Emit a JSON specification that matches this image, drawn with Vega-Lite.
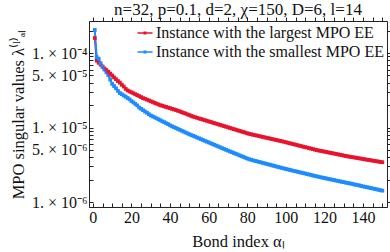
{
  "$schema": "https://vega.github.io/schema/vega-lite/v6.json",
  "autosize": {"type": "none"},
  "padding": {"left": 89, "top": 21, "right": 3, "bottom": 45},
  "width": 298,
  "height": 186,
  "background": "white",
  "config": {
    "font": "Liberation Serif",
    "view": {"stroke": "#222", "strokeWidth": 1},
    "axis": {"labelFont": "Liberation Serif", "titleFont": "Liberation Serif", "labelColor": "#111", "titleColor": "#111", "domainColor": "#222", "tickColor": "#222", "grid": false, "labelFontWeight": "normal", "titleFontWeight": "normal"}
  },
  "title": {"text": "n=32, p=0.1, d=2, χ=150, D=6, l=14", "font": "Liberation Serif", "fontSize": 17, "fontWeight": "normal", "color": "#111", "offset": -2},
  "data": {"values": [
    {"i":1,"L":1.59e-4,"S":2.04e-4},{"i":2,"L":7.9e-5,"S":8.8e-5},{"i":3,"L":7.4e-5,"S":8.4e-5},{"i":4,"L":7.0e-5,"S":7.3e-5},{"i":5,"L":6.6e-5,"S":6.5e-5},
    {"i":6,"L":6.2e-5,"S":6.0e-5},{"i":7,"L":5.9e-5,"S":5.5e-5},{"i":8,"L":5.6e-5,"S":5.05e-5},{"i":9,"L":5.3e-5,"S":4.4e-5},{"i":10,"L":5.0e-5,"S":3.85e-5},
    {"i":11,"L":4.7e-5,"S":3.6e-5},{"i":12,"L":4.45e-5,"S":3.35e-5},{"i":13,"L":4.2e-5,"S":3.1e-5},{"i":14,"L":4.0e-5,"S":2.9e-5},{"i":15,"L":3.75e-5,"S":2.8e-5},
    {"i":16,"L":3.55e-5,"S":2.69e-5},{"i":17,"L":3.3e-5,"S":2.59e-5},{"i":18,"L":3.15e-5,"S":2.49e-5},{"i":19,"L":3.05e-5,"S":2.39e-5},{"i":20,"L":2.97e-5,"S":2.26e-5},
    {"i":21,"L":2.88e-5,"S":2.17e-5},{"i":22,"L":2.8e-5,"S":2.07e-5},{"i":23,"L":2.72e-5,"S":1.98e-5},{"i":24,"L":2.64e-5,"S":1.85e-5},{"i":25,"L":2.56e-5,"S":1.78e-5},
    {"i":26,"L":2.48e-5,"S":1.71e-5},{"i":27,"L":2.43e-5,"S":1.64e-5},{"i":28,"L":2.37e-5,"S":1.58e-5},{"i":29,"L":2.31e-5,"S":1.51e-5},{"i":30,"L":2.25e-5,"S":1.45e-5},
    {"i":31,"L":2.2e-5,"S":1.41e-5},{"i":32,"L":2.14e-5,"S":1.37e-5},{"i":33,"L":2.09e-5,"S":1.33e-5},{"i":34,"L":2.04e-5,"S":1.29e-5},{"i":35,"L":1.99e-5,"S":1.25e-5},
    {"i":36,"L":1.96e-5,"S":1.21e-5},{"i":37,"L":1.92e-5,"S":1.18e-5},{"i":38,"L":1.89e-5,"S":1.14e-5},{"i":39,"L":1.85e-5,"S":1.11e-5},{"i":40,"L":1.82e-5,"S":1.07e-5},
    {"i":41,"L":1.78e-5,"S":1.04e-5},{"i":42,"L":1.75e-5,"S":1.01e-5},{"i":43,"L":1.72e-5,"S":9.85e-6},{"i":44,"L":1.68e-5,"S":9.58e-6},{"i":45,"L":1.65e-5,"S":9.32e-6},
    {"i":46,"L":1.61e-5,"S":9.07e-6},{"i":47,"L":1.57e-5,"S":8.82e-6},{"i":48,"L":1.54e-5,"S":8.58e-6},{"i":49,"L":1.5e-5,"S":8.35e-6},{"i":50,"L":1.47e-5,"S":8.12e-6},
    {"i":51,"L":1.43e-5,"S":7.92e-6},{"i":52,"L":1.4e-5,"S":7.72e-6},{"i":53,"L":1.375e-5,"S":7.53e-6},{"i":54,"L":1.35e-5,"S":7.34e-6},{"i":55,"L":1.325e-5,"S":7.16e-6},
    {"i":56,"L":1.3e-5,"S":6.98e-6},{"i":57,"L":1.277e-5,"S":6.8e-6},{"i":58,"L":1.254e-5,"S":6.63e-6},{"i":59,"L":1.231e-5,"S":6.47e-6},{"i":60,"L":1.209e-5,"S":6.31e-6},
    {"i":61,"L":1.187e-5,"S":6.15e-6},{"i":62,"L":1.165e-5,"S":6.0e-6},{"i":63,"L":1.144e-5,"S":5.85e-6},{"i":64,"L":1.123e-5,"S":5.7e-6},{"i":65,"L":1.103e-5,"S":5.56e-6},
    {"i":66,"L":1.083e-5,"S":5.42e-6},{"i":67,"L":1.063e-5,"S":5.28e-6},{"i":68,"L":1.044e-5,"S":5.15e-6},{"i":69,"L":1.025e-5,"S":5.02e-6},{"i":70,"L":1.006e-5,"S":4.9e-6},
    {"i":71,"L":9.88e-6,"S":4.78e-6},{"i":72,"L":9.7e-6,"S":4.67e-6},{"i":73,"L":9.52e-6,"S":4.55e-6},{"i":74,"L":9.35e-6,"S":4.44e-6},{"i":75,"L":9.18e-6,"S":4.34e-6},
    {"i":76,"L":9.01e-6,"S":4.23e-6},{"i":77,"L":8.85e-6,"S":4.13e-6},{"i":78,"L":8.69e-6,"S":4.03e-6},{"i":79,"L":8.53e-6,"S":3.93e-6},{"i":80,"L":8.37e-6,"S":3.84e-6},
    {"i":81,"L":8.22e-6,"S":3.75e-6},{"i":82,"L":8.11e-6,"S":3.69e-6},{"i":83,"L":8.0e-6,"S":3.63e-6},{"i":84,"L":7.89e-6,"S":3.57e-6},{"i":85,"L":7.79e-6,"S":3.52e-6},
    {"i":86,"L":7.68e-6,"S":3.46e-6},{"i":87,"L":7.58e-6,"S":3.41e-6},{"i":88,"L":7.48e-6,"S":3.35e-6},{"i":89,"L":7.38e-6,"S":3.3e-6},{"i":90,"L":7.28e-6,"S":3.25e-6},
    {"i":91,"L":7.18e-6,"S":3.2e-6},{"i":92,"L":7.08e-6,"S":3.15e-6},{"i":93,"L":6.99e-6,"S":3.1e-6},{"i":94,"L":6.89e-6,"S":3.05e-6},{"i":95,"L":6.8e-6,"S":3.0e-6},
    {"i":96,"L":6.71e-6,"S":2.95e-6},{"i":97,"L":6.62e-6,"S":2.91e-6},{"i":98,"L":6.53e-6,"S":2.86e-6},{"i":99,"L":6.44e-6,"S":2.82e-6},{"i":100,"L":6.34e-6,"S":2.78e-6},
    {"i":101,"L":6.25e-6,"S":2.74e-6},{"i":102,"L":6.15e-6,"S":2.7e-6},{"i":103,"L":6.06e-6,"S":2.66e-6},{"i":104,"L":5.97e-6,"S":2.62e-6},{"i":105,"L":5.88e-6,"S":2.59e-6},
    {"i":106,"L":5.79e-6,"S":2.55e-6},{"i":107,"L":5.7e-6,"S":2.51e-6},{"i":108,"L":5.62e-6,"S":2.48e-6},{"i":109,"L":5.53e-6,"S":2.44e-6},{"i":110,"L":5.45e-6,"S":2.41e-6},
    {"i":111,"L":5.37e-6,"S":2.37e-6},{"i":112,"L":5.29e-6,"S":2.34e-6},{"i":113,"L":5.21e-6,"S":2.31e-6},{"i":114,"L":5.13e-6,"S":2.27e-6},{"i":115,"L":5.05e-6,"S":2.24e-6},
    {"i":116,"L":4.98e-6,"S":2.21e-6},{"i":117,"L":4.92e-6,"S":2.18e-6},{"i":118,"L":4.86e-6,"S":2.15e-6},{"i":119,"L":4.8e-6,"S":2.12e-6},{"i":120,"L":4.75e-6,"S":2.1e-6},
    {"i":121,"L":4.69e-6,"S":2.07e-6},{"i":122,"L":4.63e-6,"S":2.04e-6},{"i":123,"L":4.58e-6,"S":2.02e-6},{"i":124,"L":4.52e-6,"S":1.99e-6},{"i":125,"L":4.47e-6,"S":1.97e-6},
    {"i":126,"L":4.41e-6,"S":1.94e-6},{"i":127,"L":4.36e-6,"S":1.92e-6},{"i":128,"L":4.31e-6,"S":1.89e-6},{"i":129,"L":4.26e-6,"S":1.87e-6},{"i":130,"L":4.2e-6,"S":1.85e-6},
    {"i":131,"L":4.15e-6,"S":1.82e-6},{"i":132,"L":4.1e-6,"S":1.8e-6},{"i":133,"L":4.06e-6,"S":1.78e-6},{"i":134,"L":4.02e-6,"S":1.76e-6},{"i":135,"L":3.98e-6,"S":1.73e-6},
    {"i":136,"L":3.94e-6,"S":1.71e-6},{"i":137,"L":3.9e-6,"S":1.69e-6},{"i":138,"L":3.86e-6,"S":1.67e-6},{"i":139,"L":3.82e-6,"S":1.64e-6},{"i":140,"L":3.78e-6,"S":1.62e-6},
    {"i":141,"L":3.74e-6,"S":1.6e-6},{"i":142,"L":3.7e-6,"S":1.58e-6},{"i":143,"L":3.67e-6,"S":1.56e-6},{"i":144,"L":3.63e-6,"S":1.54e-6},{"i":145,"L":3.59e-6,"S":1.52e-6},
    {"i":146,"L":3.56e-6,"S":1.5e-6},{"i":147,"L":3.52e-6,"S":1.48e-6},{"i":148,"L":3.49e-6,"S":1.46e-6},{"i":149,"L":3.45e-6,"S":1.44e-6},{"i":150,"L":3.42e-6,"S":1.42e-6}
  ]},
  "transform": [{"fold": ["L", "S"], "as": ["s", "v"]}],
  "encoding": {
    "x": {"field": "i", "type": "quantitative", "scale": {"domain": [-2, 152.4], "nice": false, "zero": false}},
    "y": {"field": "v", "type": "quantitative", "scale": {"type": "log", "domain": [8.57e-7, 2.69e-4], "nice": false}},
    "color": {"field": "s", "type": "nominal", "scale": {"domain": ["L", "S"], "range": ["#E8132D", "#1E8CFF"]}}
  },
  "layer": [
    {
      "mark": {"type": "line", "strokeWidth": 2},
      "encoding": {
        "x": {"field": "i", "type": "quantitative", "axis": {
          "title": "Bond index αₗ", "titleFontSize": 16.5, "titlePadding": 8, "labelFontSize": 16,
          "values": [0,5,10,15,20,25,30,35,40,45,50,55,60,65,70,75,80,85,90,95,100,105,110,115,120,125,130,135,140,145,150],
          "labelExpr": "datum.value % 20 === 0 ? datum.label : ''",
          "labelFlush": false, "labelOverlap": false, "tickSize": -4, "labelPadding": 6,
          "encode": {"ticks": {"update": {"y2": {"signal": "datum.value % 10 === 0 ? -4.5 : -2.5"}}}}
        }},
        "y": {"field": "v", "type": "quantitative", "axis": {
          "title": "MPO singular values λ⁽ˡ⁾ₐₗ", "titleFontSize": 16.5, "titlePadding": 5, "labelFontSize": 16,
          "values": [1e-6,2e-6,3e-6,4e-6,5e-6,6e-6,7e-6,8e-6,9e-6,1e-5,2e-5,3e-5,4e-5,5e-5,6e-5,7e-5,8e-5,9e-5,1e-4,2e-4],
          "labelExpr": "(round(datum.value/pow(10,floor(log(datum.value)/LN10+1e-9)))==1 || round(datum.value/pow(10,floor(log(datum.value)/LN10+1e-9)))==5) && datum.value < 1.5e-4 ? round(datum.value/pow(10,floor(log(datum.value)/LN10+1e-9))) + '. × 10' + (floor(log(datum.value)/LN10+1e-9)==-4 ? '⁻⁴' : floor(log(datum.value)/LN10+1e-9)==-5 ? '⁻⁵' : '⁻⁶') : ''",
          "labelOverlap": false, "labelFlush": false, "tickSize": -4, "labelPadding": 6,
          "encode": {"ticks": {"update": {"x2": {"signal": "(round(datum.value/pow(10,floor(log(datum.value)/LN10+1e-9)))==1 || round(datum.value/pow(10,floor(log(datum.value)/LN10+1e-9)))==5) ? 4.5 : 2.5"}}}}
        }}
      }
    },
    {
      "mark": {"type": "point", "shape": "square", "filled": true, "size": 14, "opacity": 1},
      "encoding": {
        "x": {"field": "i", "type": "quantitative", "axis": {
          "orient": "top", "title": null, "labels": false, "domain": false,
          "values": [0,5,10,15,20,25,30,35,40,45,50,55,60,65,70,75,80,85,90,95,100,105,110,115,120,125,130,135,140,145,150],
          "tickSize": 4,
          "encode": {"ticks": {"update": {"y2": {"signal": "datum.value % 10 === 0 ? 4.5 : 2.5"}}}}
        }},
        "y": {"field": "v", "type": "quantitative", "axis": {
          "orient": "right", "title": null, "labels": false, "domain": false,
          "values": [1e-6,2e-6,3e-6,4e-6,5e-6,6e-6,7e-6,8e-6,9e-6,1e-5,2e-5,3e-5,4e-5,5e-5,6e-5,7e-5,8e-5,9e-5,1e-4,2e-4],
          "tickSize": 4,
          "encode": {"ticks": {"update": {"x2": {"signal": "(round(datum.value/pow(10,floor(log(datum.value)/LN10+1e-9)))==1 || round(datum.value/pow(10,floor(log(datum.value)/LN10+1e-9)))==5) ? -4.5 : -2.5"}}}}
        }},
        "color": {"field": "s", "type": "nominal", "legend": {
          "orient": "none", "legendX": 48, "legendY": 4, "title": null, "padding": 0,
          "symbolType": "M-1,-0.1H1V0.1H-1Z M-0.2,-0.2H0.2V0.2H-0.2Z", "symbolSize": 225, "symbolStrokeWidth": 0,
          "labelFont": "Liberation Serif", "labelFontSize": 16, "labelColor": "#111", "labelOffset": 3, "rowPadding": 3, "labelLimit": 400,
          "labelExpr": "datum.value == 'L' ? 'Instance with the largest MPO EE' : 'Instance with the smallest MPO EE'",
          "encode": {"symbols": {"update": {"fill": {"scale": "color", "field": "value"}, "opacity": {"value": 1}}}}
        }}
      }
    }
  ],
  "resolve": {"axis": {"x": "independent", "y": "independent"}}
}
